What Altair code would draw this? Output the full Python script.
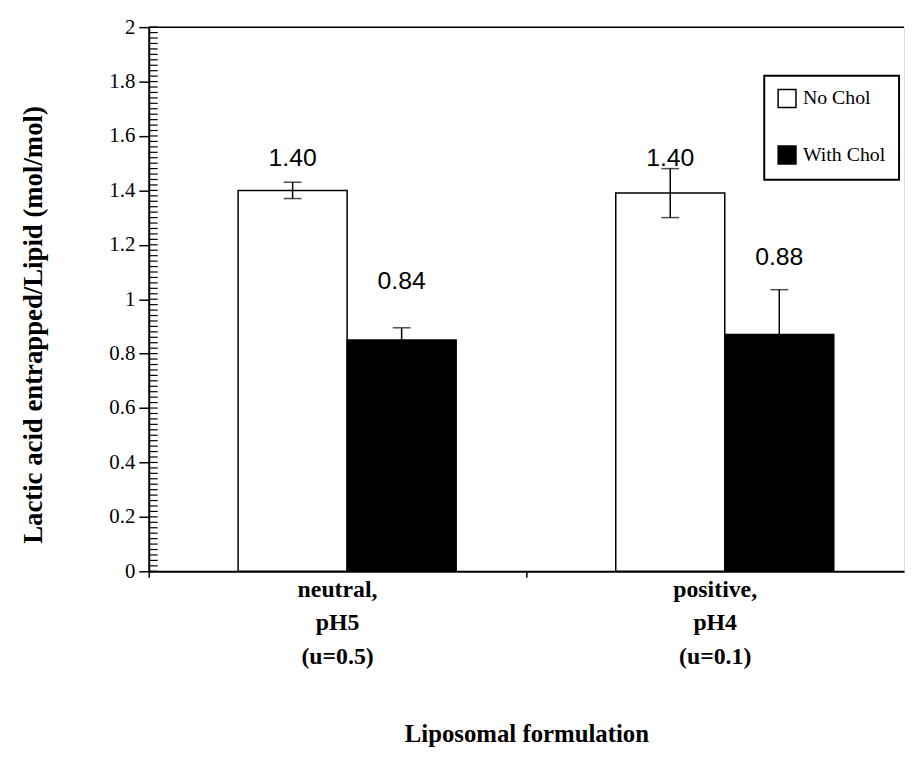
import altair as alt
import pandas as pd

categories = ["neutral,\npH5\n(u=0.5)", "positive,\npH4\n(u=0.1)"]
series = ["No Chol", "With Chol"]
means_no_chol = [1.40, 1.39]
means_with_chol = [0.85, 0.87]
err_no_chol = [0.03, 0.09]
err_with_chol = [0.045, 0.165]
labels_no_chol = ["1.40", "1.40"]
labels_with_chol = ["0.84", "0.88"]
label_pos_no_chol = [1.52, 1.52]
label_pos_with_chol = [1.065, 1.155]
major_ticks = [0, 0.2, 0.4, 0.6, 0.8, 1.0, 1.2, 1.4, 1.6, 1.8, 2.0]
minor_ticks = [round(i * 0.02, 2) for i in range(101)]

rows = []
for i, c in enumerate(categories):
    rows.append(dict(cat=c, series=series[0], mean=means_no_chol[i], err=err_no_chol[i],
                     label=labels_no_chol[i], lpos=label_pos_no_chol[i]))
    rows.append(dict(cat=c, series=series[1], mean=means_with_chol[i], err=err_with_chol[i],
                     label=labels_with_chol[i], lpos=label_pos_with_chol[i]))
df = pd.DataFrame(rows)
df["lo"] = df["mean"] - df["err"]
df["hi"] = df["mean"] + df["err"]

W, H = 762, 549
SERIF = "Liberation Serif"

x_enc = alt.X("cat:N", sort=categories,
              scale=alt.Scale(paddingInner=0, paddingOuter=0),
              axis=alt.Axis(title="Liposomal formulation", labelAngle=0,
                            labelExpr="split(datum.label, '\\n')",
                            labelFont=SERIF, labelFontSize=24, labelFontWeight="bold",
                            labelLineHeight=34, labelColor="black", labelPadding=0,
                            labelBaseline="top",
                            titleFont=SERIF, titleFontSize=25, titleFontWeight="bold",
                            titleColor="black", titlePadding=54,
                            bandPosition=0, tickSize=6, tickColor="black", tickWidth=1.5,
                            domainColor="black", domainWidth=2))
xo_enc = alt.XOffset("series:N", sort=series,
                     scale=alt.Scale(paddingInner=0, paddingOuter=0.732, align=0.56))
y_scale = alt.Scale(domain=[0, 2], nice=False, zero=True)

base = alt.Chart(df)

bars = base.mark_bar(stroke="black", strokeWidth=1.5).encode(
    x=x_enc,
    xOffset=xo_enc,
    y=alt.Y("mean:Q", scale=y_scale,
            axis=alt.Axis(title="Lactic acid entrapped/Lipid (mol/mol)", values=major_ticks,
                          format=".1~f", labelFont=SERIF, labelFontSize=21,
                          labelColor="black", labelPadding=4,
                          tickSize=10, tickColor="black", tickWidth=1.5,
                          domainColor="black", domainWidth=2, grid=False,
                          titleFont=SERIF, titleFontSize=27, titleFontWeight="bold",
                          titleColor="black", titlePadding=62, titleY=300)),
    fill=alt.Fill("series:N", sort=series,
                  scale=alt.Scale(domain=series, range=["white", "black"]),
                  legend=alt.Legend(title=None, orient="none", legendX=621, legendY=49,
                                    padding=13, strokeColor="black",
                                    fillColor="white", symbolType="square", symbolSize=324,
                                    symbolStrokeColor="black", symbolStrokeWidth=1.5,
                                    labelFont=SERIF, labelFontSize=20, labelColor="black",
                                    rowPadding=33, labelOffset=6)),
)

err_rule = base.mark_rule(color="black", strokeWidth=1.5).encode(
    x=alt.X("cat:N", sort=categories), xOffset=alt.XOffset("series:N", sort=series),
    y=alt.Y("lo:Q", scale=y_scale), y2="hi:Q")
cap_lo = base.mark_tick(color="black", thickness=1.5, size=18).encode(
    x=alt.X("cat:N", sort=categories), xOffset=alt.XOffset("series:N", sort=series),
    y=alt.Y("lo:Q", scale=y_scale))
cap_hi = base.mark_tick(color="black", thickness=1.5, size=18).encode(
    x=alt.X("cat:N", sort=categories), xOffset=alt.XOffset("series:N", sort=series),
    y=alt.Y("hi:Q", scale=y_scale))

texts = base.mark_text(font="Liberation Sans", fontSize=25, color="black",
                       baseline="middle").encode(
    x=alt.X("cat:N", sort=categories), xOffset=alt.XOffset("series:N", sort=series),
    y=alt.Y("lpos:Q", scale=y_scale), text="label:N")

minor = alt.Chart(pd.DataFrame({"v": minor_ticks})).mark_rule(
    color="black", strokeWidth=1.2).encode(
    y=alt.Y("v:Q", scale=y_scale), x=alt.value(0), x2=alt.value(9))

top_line = alt.Chart(pd.DataFrame({"v": [2]})).mark_rule(
    color="black", strokeWidth=1.5).encode(
    y=alt.Y("v:Q", scale=y_scale), x=alt.value(0), x2=alt.value(W))

chart = alt.layer(bars, err_rule, cap_lo, cap_hi, texts, minor, top_line).properties(
    width=W, height=H,
    padding={"left": 11, "top": 5, "right": 0, "bottom": 0},
).configure_view(stroke=None).configure(background="white").configure_axis(
    labelFont=SERIF, titleFont=SERIF).configure_legend(strokeWidth=2)

chart.save("out.html", embed_options={"renderer": "svg", "actions": False})
